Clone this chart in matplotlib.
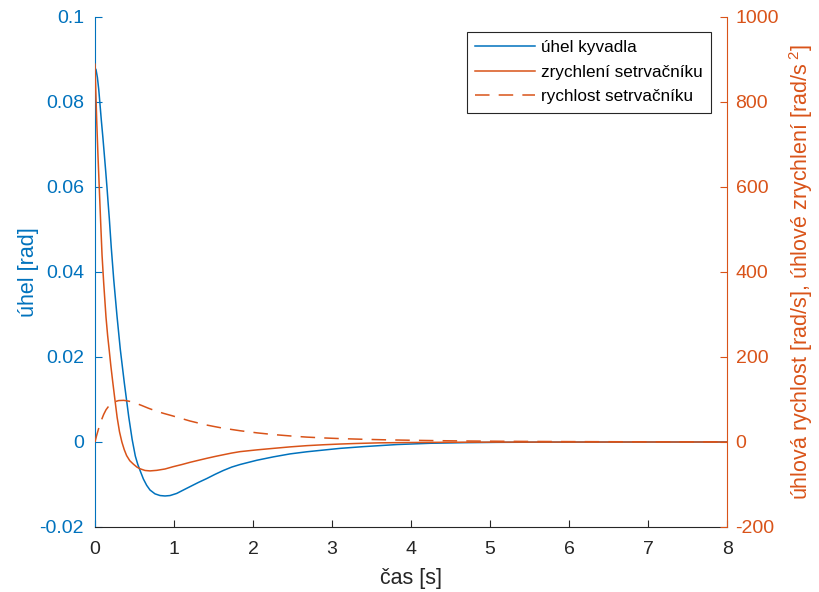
import matplotlib
matplotlib.use('Agg')
import matplotlib.pyplot as plt

plt.rcParams['font.family'] = ['Liberation Sans', 'DejaVu Sans']
plt.rcParams['mathtext.fontset'] = 'custom'
plt.rcParams['mathtext.rm'] = 'Liberation Sans'
plt.rcParams['mathtext.it'] = 'Liberation Sans'

# uhel kyvadla [rad]
t_uhel = [0, 0.013, 0.03, 0.047, 0.063, 0.080, 0.10, 0.118, 0.135, 0.152, 0.167, 0.181,
          0.206, 0.237, 0.278, 0.320, 0.371, 0.427, 0.470, 0.510, 0.540, 0.570, 0.612,
          0.654, 0.696, 0.759, 0.823, 0.886, 0.949, 1.034, 1.118, 1.203, 1.310, 1.414,
          1.520, 1.624, 1.730, 1.835, 2.047, 2.257, 2.468, 2.680, 2.890, 3.100, 3.390,
          3.820, 4.240, 4.660, 5.090, 5.600, 6.000, 7.000, 8.000]
uhel = [0.0880, 0.0876, 0.0858, 0.0830, 0.0795, 0.0757, 0.0716, 0.0676, 0.0638, 0.0598,
        0.0560, 0.0526, 0.0457, 0.0382, 0.0297, 0.0218, 0.0139, 0.0059, 0.0006, -0.0033,
        -0.0052, -0.0067, -0.0087, -0.0102, -0.0113, -0.0122, -0.0126, -0.0127, -0.0126,
        -0.0121, -0.0113, -0.0105, -0.0095, -0.0086, -0.0076, -0.0067, -0.0059, -0.0053,
        -0.0043, -0.0035, -0.0028, -0.0023, -0.0019, -0.0015, -0.0011, -0.0006, -0.0003,
        -0.00016, -0.00008, -0.00004, -0.00002, -0.000005, 0.0]

# zrychleni setrvacniku [rad/s^2]
t_zrych = [0, 0.011, 0.022, 0.038, 0.054, 0.071, 0.089, 0.110, 0.139, 0.160, 0.181, 0.200,
           0.224, 0.253, 0.280, 0.310, 0.340, 0.370, 0.400, 0.440, 0.485, 0.530, 0.570,
           0.633, 0.696, 0.781, 0.886, 0.991, 1.100, 1.203, 1.310, 1.414, 1.520, 1.624,
           1.730, 1.835, 2.050, 2.257, 2.468, 2.680, 2.890, 3.100, 3.300, 3.600, 4.000,
           4.500, 5.000, 6.000, 7.000, 8.000]
zrych = [889, 820, 753, 672, 598, 520, 440, 374, 294, 250, 214, 180, 142, 98, 58, 24, 0,
         -18, -32, -44, -52, -59, -63, -67, -68, -66.7, -63.5, -58, -53, -47.8, -43, -38.4,
         -34, -30, -26, -22.7, -18.5, -15, -11.5, -8.6, -6.5, -4.8, -3.5, -2.0, -1.2, -0.6,
         -0.3, -0.1, 0, 0]

# rychlost setrvacniku [rad/s]
t_rychl = [0, 0.02, 0.04, 0.06, 0.08, 0.11, 0.14, 0.18, 0.237, 0.30, 0.363, 0.43, 0.506,
           0.59, 0.675, 0.77, 0.865, 0.99, 1.1, 1.2, 1.31, 1.41, 1.52, 1.62, 1.835, 2.05,
           2.257, 2.5, 2.68, 2.9, 3.1, 3.39, 3.7, 4.03, 4.35, 4.66, 5.29, 6.0, 7.0, 8.0]
rychl = [0, 15, 28, 40, 51, 65, 76, 86, 94, 97.5, 98, 96, 92, 86, 79.5, 73, 67.5, 61, 55,
         49.5, 44.5, 40, 36, 32.5, 26.5, 21.5, 17.5, 13.8, 11.5, 9.5, 8.0, 6.4, 5.0, 4.0,
         3.1, 2.4, 1.5, 0.9, 0.4, 0.2]

blue = '#0072BD'
orange = '#D95319'
grey = '#262626'

fig = plt.figure(figsize=(8.19, 5.92), dpi=100)
ax = fig.add_axes([0.116, 0.1098, 0.772, 0.8615])
ax2 = ax.twinx()

l1, = ax.plot(t_uhel, uhel, color=blue, lw=1.1)
l2, = ax2.plot(t_zrych, zrych, color=orange, lw=1.1)
l3, = ax2.plot(t_rychl, rychl, color=orange, lw=1.1, linestyle=(0, (9.5, 6)))

ax.set_xlim(0, 8)
ax.set_ylim(-0.02, 0.1)
ax2.set_ylim(-200, 1000)
ax.set_xticks(range(0, 9))
ax.set_yticks([-0.02, 0, 0.02, 0.04, 0.06, 0.08, 0.1])
ax.set_yticklabels(['-0.02', '0', '0.02', '0.04', '0.06', '0.08', '0.1'])
ax2.set_yticks(range(-200, 1001, 200))
ax2.set_yticklabels([str(v) for v in range(-200, 1001, 200)])

for a in (ax, ax2):
    a.spines['top'].set_visible(False)
ax.spines['right'].set_visible(False)
ax2.spines['left'].set_visible(False)
ax2.spines['bottom'].set_visible(False)
ax.spines['left'].set_color(blue)
ax2.spines['right'].set_color(orange)
ax.spines['bottom'].set_color(grey)

ax.tick_params(axis='x', direction='in', length=5, colors=grey, labelsize=14, pad=10)
ax.tick_params(axis='y', direction='in', length=5, colors=blue, labelsize=14, pad=8)
ax2.tick_params(axis='y', direction='in', length=5, colors=orange, labelsize=14, pad=6)

ax.set_xlabel('čas [s]', fontsize=15.5, color=grey, labelpad=7)
ax.set_ylabel('úhel [rad]', fontsize=15.5, color=blue, labelpad=0)
ax2.set_ylabel('úhlová rychlost [rad/s], úhlové zrychlení [rad/s$^{\\ 2}$]',
               fontsize=15.5, color=orange, labelpad=6)

leg = ax2.legend([l1, l2, l3], ['úhel kyvadla', 'zrychlení setrvačníku', 'rychlost setrvačníku'],
                 loc='upper right', bbox_to_anchor=(0.975, 0.971), borderaxespad=0,
                 fontsize=12.3, fancybox=False, handlelength=3.5, handletextpad=0.35,
                 borderpad=0.5, labelspacing=0.55, framealpha=1)
leg.get_frame().set_edgecolor(grey)
leg.get_frame().set_linewidth(0.8)

fig.savefig('out.png', dpi=100)
